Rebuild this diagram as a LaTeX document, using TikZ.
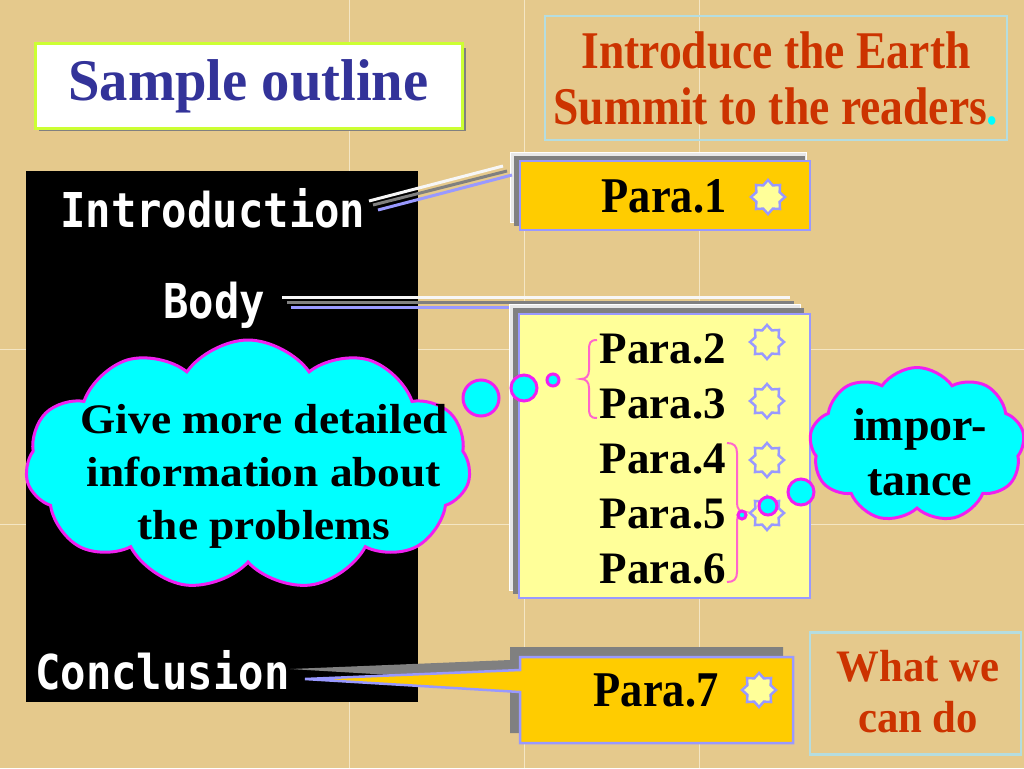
\documentclass[tikz,border=0pt]{standalone}
\usepackage{fontspec}
\setmainfont{Liberation Serif}
\newfontfamily\monof{DejaVu Sans Mono}
\usetikzlibrary{shapes.geometric,shapes.symbols}
\definecolor{bg}{HTML}{E5C98C}
\definecolor{gridc}{HTML}{F4E6C4}
\definecolor{titleb}{HTML}{CCFF33}
\definecolor{titlet}{HTML}{333399}
\definecolor{goalb}{HTML}{B5DDE0}
\definecolor{goalt}{HTML}{CC3300}
\definecolor{yel}{HTML}{FFCC00}
\definecolor{lyel}{HTML}{FFFF99}
\definecolor{lav}{HTML}{9999FF}
\definecolor{shad}{HTML}{808080}
\definecolor{lightl}{HTML}{E8E8E8}
\definecolor{cyn}{HTML}{00FFFF}
\definecolor{mag}{HTML}{F020F0}
\definecolor{pnk}{HTML}{FF66CC}
\newcommand{\tf}[3]{\bfseries\fontsize{#1}{#2}\selectfont\addfontfeature{FakeStretch=#3}}
\newcommand{\mf}{\monof\bfseries\fontsize{48}{56}\selectfont\addfontfeature{FakeStretch=0.88}}
\tikzset{
  gridline/.style={draw=gridc, line width=1},
  monotext/.style={text=white, font=\mf, inner sep=0, anchor=base west},
  paratext/.style={font=\tf{45}{54}{1.0}, inner sep=0, anchor=base},
  bigpara/.style={font=\tf{50}{60}{0.89}, inner sep=0, anchor=base},
  seal/.style={star, star points=8, star point ratio=1.35, minimum size=34, inner sep=0, draw=lav, line width=2.5},
  layerlight/.style={fill=lightl, draw=white, line width=0.8},
  layergray/.style={fill=shad},
  callbox/.style={draw=lav, line width=2.5, inner sep=0},
  cloudy/.style={cloud, cloud ignores aspect, cloud puff arc=110, fill=cyn, draw=mag, line width=3, inner sep=0},
  bubble/.style={circle, fill=cyn, draw=mag, line width=3, inner sep=0},
  bracepath/.style={draw=pnk, line width=2},
  ptrwhite/.style={draw=white!94!gray, line width=3},
  ptrgray/.style={draw=shad, line width=3},
  ptrlav/.style={draw=lav, line width=3},
}
\begin{document}
\begin{tikzpicture}[x=1pt,y=-1pt]
\useasboundingbox (0,0) rectangle (1024,768);
\begin{scope}
\clip (0,0) rectangle (1024,768);
\fill[bg] (0,0) rectangle (1024,768);
\draw[gridline] (349,0) -- (349,768);
\draw[gridline] (524,0) -- (524,768);
\draw[gridline] (699,0) -- (699,768);
\draw[gridline] (0,349) -- (1024,349);
\draw[gridline] (0,524) -- (1024,524);

% title
\fill[shad] (39,48) rectangle (466,131);
\node[fill=white, draw=titleb, line width=3, minimum width=427, minimum height=84, inner sep=0,
      text=titlet, font=\tf{59}{66}{0.96}] (title) at (248.5,86) {Sample outline};

% goal box
\node[draw=goalb, line width=2.5, minimum width=462, minimum height=124, inner sep=0,
      text=goalt, align=center, font=\tf{53}{56}{0.86}] (goal) at (776,78)
      {Introduce the Earth\\Summit to the readers{\color{cyn}.}};

% black panel
\fill[black] (26,171) rectangle (418,702);

% Para.1 callout
\fill[layerlight] (510,152) rectangle (806,222);
\fill[layergray] (514,156) rectangle (805,226);
\node[callbox, fill=yel, minimum width=290, minimum height=69] (p1box) at (665,195.5) {};
\node[bigpara] (p1) at (664,212) {Para.1};
\node[seal, fill=lyel] (s1) at (768,197) {};

% intro pointer lines
\coordinate (iw1) at (369,201); \coordinate (iw2) at (503,166);
\coordinate (ig1) at (373,205); \coordinate (ig2) at (507,171);
\coordinate (il1) at (378,210); \coordinate (il2) at (512,175);
\draw[ptrwhite] (iw1) -- (iw2);
\draw[ptrgray] (ig1) -- (ig2);
\draw[ptrlav] (il1) -- (il2);

% body pointer lines
\coordinate (bw1) at (282,297); \coordinate (bw2) at (790,297);
\coordinate (bg1) at (287,302); \coordinate (bg2) at (794,302);
\coordinate (bl1) at (291,307); \coordinate (bl2) at (799,307);
\draw[ptrwhite] (bw1) -- (bw2);
\draw[ptrgray] (bg1) -- (bg2);
\draw[ptrlav] (bl1) -- (bl2);

% Para.2-6 callout
\fill[layerlight] (509,304) rectangle (800,590);
\fill[layergray] (513,308) rectangle (804,594);
\node[callbox, fill=lyel, minimum width=291, minimum height=284] (pbox) at (664.5,456) {};
\node[paratext] (p2) at (663,363) {Para.2};
\node[paratext] (p3) at (663,418) {Para.3};
\node[paratext] (p4) at (663,473) {Para.4};
\node[paratext] (p5) at (663,528) {Para.5};
\node[paratext] (p6) at (663,583) {Para.6};
\node[seal] (s2) at (767,342) {};
\node[seal] (s3) at (767,401) {};
\node[seal] (s4) at (767,460) {};
\node[seal] (s5) at (767,513) {};

% braces
\draw[bracepath] (597,340) .. controls (590,340) and (589,343) .. (589,350) -- (589,370)
  .. controls (589,376) and (586,379) .. (581,379) .. controls (586,379) and (589,382) .. (589,388)
  -- (589,408) .. controls (589,415) and (590,418) .. (597,418);
\draw[bracepath] (727,443) .. controls (734,443) and (737,446) .. (737,453) -- (737,503)
  .. controls (737,509) and (740,512) .. (745,512) .. controls (740,512) and (737,515) .. (737,521)
  -- (737,572) .. controls (737,579) and (734,582) .. (727,582);

% Para.7 callout
\fill[layergray] (510,647) -- (783,647) -- (783,733) -- (510,733) -- (510,682) -- (290,669) -- (510,660) -- cycle;
\draw[callbox, fill=yel] (520,657) -- (793,657) -- (793,743) -- (520,743) -- (520,692) -- (305,679) -- (520,670) -- cycle;
\node[bigpara] (p7) at (656,706) {Para.7};
\node[seal, fill=lyel] (s7) at (759,690) {};

% what we can do
\node[draw=goalb, line width=2.5, minimum width=211, minimum height=122, inner sep=0] (todo) at (915.5,693.5) {};
\node[text=goalt, align=center, font=\tf{45}{51}{0.95}, inner sep=0] (todot) at (918,692) {What we\\can do};

% left cloud
\node[cloudy, cloud puffs=11, minimum width=445, minimum height=250] (c1) at (248,465) {};
\node[bubble, minimum size=36] (b1) at (481,398) {};
\node[bubble, minimum size=26] (b2) at (524,388) {};
\node[bubble, minimum size=12] (b3) at (553,380) {};
\node[align=center, font=\tf{42}{53}{1.08}, inner sep=0] (c1t) at (264,476)
  {Give more detailed\\information about\\the problems};

% right cloud
\node[cloudy, cloud puffs=9, minimum width=215, minimum height=155] (c2) at (917,445) {};
\node[bubble, minimum size=8] (r3) at (742,515) {};
\node[bubble, minimum size=18] (r2) at (768,506) {};
\node[bubble, minimum size=26] (r1) at (801,492) {};
\node[align=center, font=\tf{46}{55}{1.0}, inner sep=0] (c2t) at (920,452) {impor-\\tance};

% black panel labels
\node[monotext] (intro) at (60,227) {Introduction};
\node[monotext] (body) at (163,318) {Body};
\node[monotext] (concl) at (35,689) {Conclusion};
\end{scope}
\end{tikzpicture}
\end{document}
